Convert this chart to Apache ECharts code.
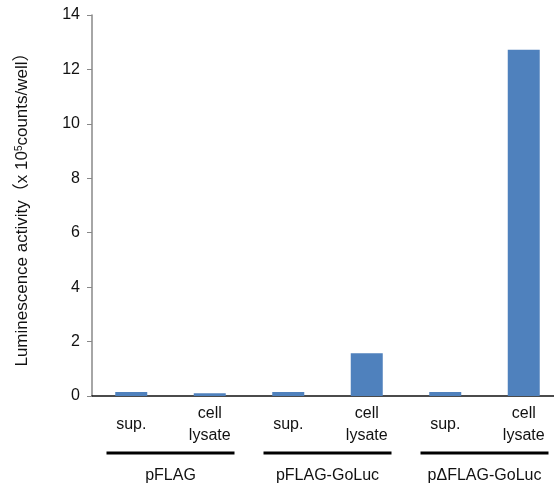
<!DOCTYPE html>
<html>
<head>
<meta charset="utf-8">
<script src="https://cdn.jsdelivr.net/npm/echarts@6/dist/echarts.min.js"></script>
<style>
  html, body { margin: 0; padding: 0; background: #fff; overflow: hidden; }
  #chart { width: 563px; height: 487px; }
</style>
</head>
<body>
<div id="chart"></div>
<script>
const categories = ["sup.", "cell\nlysate", "sup.", "cell\nlysate", "sup.", "cell\nlysate"];
const groups = ["pFLAG", "pFLAG-GoLuc", "p\u0394FLAG-GoLuc"];
const values = [0.15, 0.1, 0.15, 1.57, 0.15, 12.72];
const yTicks = [0, 2, 4, 6, 8, 10, 12, 14];

const font = "'Liberation Sans', Arial, 'Noto Sans CJK JP', sans-serif";
// the original plot runs a little past the right edge of the picture
const chart = echarts.init(document.getElementById("chart"));

chart.setOption({
  animation: false,
  grid: { left: 92, top: 15, bottom: 91, right: 0, containLabel: false },
  xAxis: [
    {
      type: "category",
      data: categories,
      axisLine: { lineStyle: { color: "#111", width: 1.5 } },
      axisTick: { show: false },
      axisLabel: {
        interval: 0,
        margin: 29,
        verticalAlign: "middle",
        fontFamily: font,
        fontSize: 16,
        lineHeight: 22,
        color: "#111"
      }
    },
    {
      type: "category",
      data: groups,
      position: "bottom",
      offset: 80,
      axisLine: { show: false },
      axisTick: { show: false },
      axisLabel: {
        interval: 0,
        margin: 0,
        verticalAlign: "middle",
        fontFamily: font,
        fontSize: 16,
        color: "#111"
      }
    }
  ],
  yAxis: {
    type: "value",
    min: yTicks[0],
    max: yTicks[yTicks.length - 1],
    interval: 2,
    splitLine: { show: false },
    axisLine: { show: true, lineStyle: { color: "#888", width: 1.5 } },
    axisTick: { show: true, length: 5, lineStyle: { color: "#888" } },
    axisLabel: { margin: 12, fontFamily: font, fontSize: 16, color: "#111" },
    name: "Luminescence activity\uFF08x 10{sup|5}counts/well\uFF09",
    nameLocation: "middle",
    nameGap: 61,
    nameTextStyle: {
      fontFamily: font,
      fontSize: 17,
      color: "#111",
      rich: {
        sup: { fontFamily: font, fontSize: 10, verticalAlign: "top", color: "#111", padding: [0, 0, 7, 0] }
      }
    }
  },
  series: [
    {
      type: "bar",
      data: values,
      barWidth: 32,
      itemStyle: { color: "#4F81BD" }
    }
  ]
});

// group underlines, placed from the group axis
const baseY = chart.convertToPixel({ yAxisIndex: 0 }, 0);
const lines = groups.map(function (g) {
  const cx = chart.convertToPixel({ xAxisIndex: 1 }, g);
  return {
    type: "line",
    shape: { x1: cx - 64, y1: baseY + 57, x2: cx + 64, y2: baseY + 57 },
    style: { stroke: "#000", lineWidth: 3 }
  };
});
chart.setOption({ graphic: lines });
</script>
</body>
</html>
